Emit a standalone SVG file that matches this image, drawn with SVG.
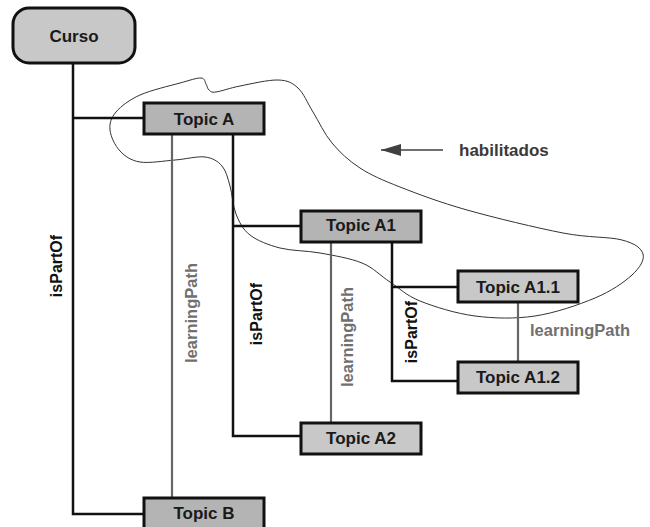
<svg xmlns="http://www.w3.org/2000/svg" width="650" height="527" viewBox="0 0 650 527">
<defs>
<style>
.box{stroke:#111;stroke-width:3}
.dark{fill:#b4b4b4}
.light{fill:#c8c8c8}
.lbl{font-family:"Liberation Sans",Arial,sans-serif;font-weight:bold;font-size:17px;fill:#1a1a1a;text-anchor:middle}
.part{stroke:#111;stroke-width:2.5;fill:none}
.path{stroke:#666;stroke-width:2.2;fill:none}
.plbl{font-family:"Liberation Sans",Arial,sans-serif;font-weight:bold;font-size:16px;fill:#111;text-anchor:middle}
.lplbl{font-family:"Liberation Sans",Arial,sans-serif;font-weight:bold;font-size:16.5px;fill:#707070;text-anchor:middle}
</style>
<marker id="arr" viewBox="0 0 20 12" refX="20" refY="6" markerWidth="20" markerHeight="12" markerUnits="userSpaceOnUse" orient="auto">
<path d="M20,6 L0,0 L0,12 Z" fill="#404040"/>
</marker>
</defs>
<rect width="650" height="527" fill="#ffffff"/>
<g id="cloud">
<path d="M110,130 C109.3,123.5 111,117.8 116,112 C121,106.2 129.3,99.8 140,95 C150.7,90.2 169.8,85.8 180,83 C190.2,80.2 196.7,77.8 201,78 C205.3,78.2 204.7,82 206,84 C207.3,86 207.3,88.7 209,90 C210.7,91.3 210.8,92.7 216,92 C221.2,91.3 229.7,88 240,86 C250.3,84 268.3,79.7 278,80 C287.7,80.3 292.2,82.7 298,88 C303.8,93.3 307.3,102.8 313,112 C318.7,121.2 324.2,133.7 332,143 C339.8,152.3 348.7,160.7 360,168 C371.3,175.3 382.2,180 400,187 C417.8,194 439.8,202.3 467,210 C494.2,217.7 537.2,228 563,233 C588.8,238 608.7,236.5 622,240 C635.3,243.5 641.3,248.2 643,254 C644.7,259.8 640,267.7 632,275 C624,282.3 611.2,291.2 595,298 C578.8,304.8 555,313 535,316 C515,319 494.2,318.5 475,316 C455.8,313.5 434.2,306.7 420,301 C405.8,295.3 399.7,288.3 390,282 C380.3,275.7 373.7,267.8 362,263 C350.3,258.2 333.7,255.5 320,253 C306.3,250.5 291.7,251 280,248 C268.3,245 257.3,240.7 250,235 C242.7,229.3 239.3,222.2 236,214 C232.7,205.8 232.3,194 230,186 C227.7,178 226.2,170.8 222,166 C217.8,161.2 212.8,158 205,157 C197.2,156 185.8,159.2 175,160 C164.2,160.8 149.2,163.5 140,162 C130.8,160.5 125,156.3 120,151 C115,145.7 110.7,136.5 110,130 Z" fill="none" stroke="#333" stroke-width="1"/>
</g>
<g id="connectors">
<polyline class="part" points="73,63 73,514 144,514"/>
<line class="part" x1="73" y1="118" x2="144" y2="118"/>
<polyline class="part" points="233,134 233,436 301,436"/>
<line class="part" x1="233" y1="226" x2="301" y2="226"/>
<polyline class="part" points="392,242 392,381 458,381"/>
<line class="part" x1="392" y1="287" x2="458" y2="287"/>
<line class="path" x1="172" y1="134" x2="172" y2="498"/>
<line class="path" x1="331" y1="242" x2="331" y2="423"/>
<line class="path" x1="518" y1="302" x2="518" y2="362"/>
<text class="plbl" transform="translate(62,266) rotate(-90)">isPartOf</text>
<text class="plbl" transform="translate(262,314) rotate(-90)">isPartOf</text>
<text class="plbl" transform="translate(417,332) rotate(-90)">isPartOf</text>
<text class="lplbl" transform="translate(197,313) rotate(-90)">learningPath</text>
<text class="lplbl" transform="translate(353,337) rotate(-90)">learningPath</text>
<text class="lplbl" x="580" y="336">learningPath</text>
</g>
<g id="habilitados">
<line x1="443" y1="150" x2="381" y2="150" stroke="#404040" stroke-width="1.4" marker-end="url(#arr)"/>
<text x="459" y="156" font-family="Liberation Sans, Arial, sans-serif" font-weight="bold" font-size="17" fill="#3a3a3a">habilitados</text>
</g>
<g id="curso">
<rect x="13" y="8" width="122" height="55" rx="16" class="box light"/>
<text class="lbl" x="74" y="42" font-size="16">Curso</text>
</g>
<g id="topicA">
<rect x="144" y="103" width="120" height="31" class="box dark"/>
<text class="lbl" x="204" y="124.5">Topic A</text>
</g>
<g id="topicA1">
<rect x="301" y="211" width="120" height="31" class="box dark"/>
<text class="lbl" x="361" y="231">Topic A1</text>
</g>
<g id="topicA11">
<rect x="458" y="271" width="120" height="31" class="box light"/>
<text class="lbl" x="518" y="292.5">Topic A1.1</text>
</g>
<g id="topicA12">
<rect x="458" y="362" width="120" height="31" class="box light"/>
<text class="lbl" x="518" y="382.5">Topic A1.2</text>
</g>
<g id="topicA2">
<rect x="301" y="423" width="120" height="31" class="box light"/>
<text class="lbl" x="361" y="444">Topic A2</text>
</g>
<g id="topicB">
<rect x="144" y="498" width="120" height="32" class="box dark"/>
<text class="lbl" x="204" y="519">Topic B</text>
</g>
</svg>
